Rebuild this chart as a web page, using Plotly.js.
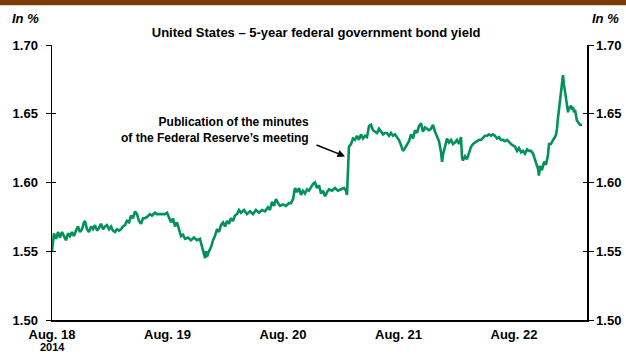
<!DOCTYPE html>
<html>
<head>
<meta charset="utf-8">
<script src="https://cdn.plot.ly/plotly-3.0.1.min.js"></script>
<style>
html,body{margin:0;padding:0;background:#fff;}
#chart{width:626px;height:354px;}
</style>
</head>
<body>
<div id="chart"></div>
<script>
// Trading time, in days since Aug. 18, 2014 00:00 (one segment per stretch of the curve)
const days1 = [0,0.009,0.017,0.035,0.052,0.069,0.087,0.104,0.121,0.139,0.156,0.173,0.190,0.208,0.225,0.242,0.260,0.277,0.286,0.303,0.320,0.338,0.355,0.372,0.390,0.407,0.424,0.442,0.459,0.476,0.494,0.511,0.528,0.545,0.563,0.580,0.597,0.615,0.632,0.649,0.667,0.684,0.701,0.719,0.736,0.753,0.771,0.788,0.805];
const yield1 = [1.550,1.555,1.563,1.559,1.564,1.560,1.564,1.561,1.558,1.563,1.561,1.564,1.561,1.565,1.568,1.564,1.566,1.571,1.572,1.566,1.564,1.568,1.566,1.569,1.565,1.567,1.570,1.566,1.568,1.569,1.566,1.568,1.565,1.564,1.566,1.565,1.566,1.568,1.569,1.572,1.571,1.576,1.574,1.579,1.577,1.572,1.570,1.574,1.574];

const days2 = [0.823,0.848,0.866,0.892,0.909,0.935,0.961,0.978,0.996,1.013,1.030,1.048,1.065,1.082,1.100,1.117,1.134,1.152,1.177,1.203,1.229,1.255,1.281,1.299,1.316,1.325,1.333,1.342,1.359,1.377,1.394,1.411,1.429,1.446,1.463,1.481,1.498,1.515,1.532,1.550,1.567,1.584,1.602,1.619];
const yield2 = [1.575,1.577,1.576,1.578,1.577,1.577,1.577,1.577,1.578,1.575,1.571,1.574,1.568,1.571,1.565,1.561,1.562,1.559,1.560,1.558,1.560,1.558,1.559,1.554,1.549,1.545,1.550,1.546,1.550,1.553,1.558,1.561,1.566,1.564,1.569,1.571,1.568,1.572,1.570,1.574,1.572,1.576,1.577,1.580];

const days3 = [1.636,1.662,1.688,1.714,1.740,1.766,1.792,1.818,1.844,1.870,1.887,1.905,1.922,1.939,1.957,1.974,2.000,2.026,2.052,2.069,2.087,2.104,2.121,2.139,2.156,2.173,2.190,2.208,2.225,2.242,2.260,2.277,2.294,2.312,2.329,2.346,2.364,2.381,2.398,2.424,2.450,2.476,2.502,2.528,2.545,2.554];
const yield3 = [1.578,1.580,1.577,1.579,1.577,1.580,1.578,1.580,1.579,1.582,1.580,1.586,1.583,1.588,1.585,1.583,1.584,1.583,1.585,1.585,1.588,1.596,1.593,1.596,1.591,1.594,1.592,1.595,1.594,1.596,1.599,1.600,1.596,1.598,1.592,1.594,1.590,1.593,1.595,1.594,1.596,1.594,1.595,1.596,1.594,1.591];

const days4 = [2.571,2.589,2.606,2.623,2.641,2.658,2.675,2.693,2.710,2.727,2.745,2.762,2.779,2.797,2.814,2.831,2.848,2.866,2.883,2.900,2.918,2.935,2.952,2.970,2.987,3.004,3.022,3.039,3.056,3.074,3.091,3.108,3.126,3.143,3.160,3.177,3.195,3.212,3.229,3.247,3.264];
const yield4 = [1.626,1.628,1.632,1.631,1.634,1.631,1.635,1.632,1.634,1.633,1.641,1.642,1.638,1.637,1.636,1.639,1.637,1.635,1.636,1.636,1.634,1.636,1.634,1.635,1.633,1.631,1.627,1.623,1.625,1.628,1.630,1.635,1.632,1.638,1.636,1.641,1.643,1.637,1.640,1.639,1.638];

const days5 = [3.281,3.299,3.316,3.333,3.351,3.368,3.377,3.385,3.403,3.420,3.437,3.455,3.472,3.489,3.506,3.524,3.541,3.550,3.558,3.576,3.593,3.610,3.628,3.645,3.662,3.680,3.697,3.714,3.732,3.749,3.766,3.784,3.801,3.818,3.835,3.853,3.870,3.887,3.905,3.922,3.939,3.957,3.974,3.991,4.009];
const yield5 = [1.639,1.642,1.637,1.633,1.630,1.622,1.615,1.620,1.627,1.632,1.629,1.631,1.628,1.629,1.631,1.628,1.633,1.618,1.616,1.619,1.617,1.622,1.626,1.628,1.629,1.630,1.631,1.631,1.633,1.634,1.634,1.635,1.634,1.635,1.634,1.632,1.633,1.631,1.631,1.630,1.631,1.629,1.628,1.627,1.626];

const days6 = [4.026,4.043,4.061,4.078,4.095,4.113,4.130,4.147,4.165,4.182,4.199,4.208,4.216,4.225,4.242,4.260,4.277,4.294,4.303,4.320,4.338,4.355,4.364,4.372,4.381,4.390,4.398,4.407,4.416,4.424,4.433,4.442,4.450,4.459,4.468,4.476,4.485,4.494,4.502,4.511,4.519,4.528,4.537,4.545,4.554,4.571,4.589];
const yield6 = [1.623,1.625,1.622,1.623,1.621,1.624,1.623,1.623,1.621,1.616,1.612,1.610,1.605,1.612,1.609,1.615,1.613,1.620,1.628,1.628,1.631,1.633,1.635,1.639,1.647,1.654,1.662,1.669,1.676,1.678,1.671,1.666,1.658,1.653,1.651,1.655,1.654,1.656,1.653,1.655,1.651,1.653,1.649,1.645,1.644,1.642,1.642];

const tickDays = [0,1,2,3,4];
const tickLabels = ["Aug. 18","Aug. 19","Aug. 20","Aug. 21","Aug. 22"];
const yearLabel = "2014";
const yTicks = [1.50,1.55,1.60,1.65,1.70];
const yTickLabels = ["1.50","1.55","1.60","1.65","1.70"];

const titleText = "United States \u2013 5-year federal government bond yield";
const unitText = "In %";
const noteText = "Publication of the minutes<br>of the Federal Reserve\u2019s meeting";
const noteDay = 2.242, noteYield = 1.638;
const arrowDay = 2.537, arrowYield = 1.619;

const pairs = [[days1,yield1],[days2,yield2],[days3,yield3],[days4,yield4],[days5,yield5],[days6,yield6]];
pairs.forEach((p,i)=>{ if(p[0].length!==p[1].length) throw new Error("length mismatch in segment "+(i+1)+": "+p[0].length+" vs "+p[1].length); });
const xs = [].concat(days1,days2,days3,days4,days5,days6);
const ys = [].concat(yield1,yield2,yield3,yield4,yield5,yield6);

const FONT = "Liberation Sans, Arial, Helvetica, sans-serif";
const boldFont = (s)=>({family:FONT,size:s,color:"#000",weight:700});

const mainTrace = {
  x: xs, y: ys, type: "scatter", mode: "lines", yaxis:"y",
  line: {color:"#00925a", width:2.6},
  hoverinfo: "skip", showlegend:false
};
// same series attached (invisibly) to the secondary axes so they are drawn
const ghost = (ax)=>({x: xs, y: ys, type:"scatter", mode:"lines", yaxis:ax,
  line:{color:"rgba(0,0,0,0)", width:0}, hoverinfo:"skip", showlegend:false});

const yCommon = {
  range:[1.50,1.70], tickvals:yTicks, ticktext:yTickLabels,
  showgrid:false, zeroline:false, fixedrange:true,
  tickwidth:1, tickcolor:"#000"
};

const layout = {
  width:626, height:354,
  margin:{l:52, r:39, t:45, b:34, pad:0},
  paper_bgcolor:"#fff", plot_bgcolor:"#fff",
  title:{text:titleText, font:boldFont(13), x:0.505, xanchor:"center", y:0.907, yanchor:"middle"},
  xaxis:{
    range:[0,4.632], tickvals:tickDays, ticktext:tickLabels,
    showgrid:false, zeroline:false, showline:true, linecolor:"#000", linewidth:1.5,
    ticks:"", tickfont:boldFont(13), ticklabelstandoff:2, fixedrange:true
  },
  yaxis: Object.assign({}, yCommon, {side:"left", showline:true, linecolor:"#000", linewidth:1.5,
    ticks:"outside", ticklen:5, tickfont:boldFont(13), ticklabelstandoff:5}),
  yaxis2: Object.assign({}, yCommon, {side:"right", overlaying:"y", anchor:"x", showline:true, linecolor:"#000", linewidth:1.5,
    ticks:"outside", ticklen:5, tickfont:boldFont(13), ticklabelstandoff:0}),
  yaxis3: Object.assign({}, yCommon, {side:"left", overlaying:"y", anchor:"x", showline:false,
    ticks:"inside", ticklen:4, showticklabels:false}),
  yaxis4: Object.assign({}, yCommon, {side:"right", overlaying:"y", anchor:"x", showline:false,
    ticks:"inside", ticklen:4, showticklabels:false}),
  showlegend:false,
  shapes:[
    {type:"rect", xref:"paper", yref:"paper", x0:-0.1, x1:1.1, y0:1.145, y1:1.17, fillcolor:"#7b3a08", line:{width:0}}
  ],
  annotations:[
    {xref:"paper", yref:"paper", x:-0.0486, y:1.098, text:"<i>"+unitText+"</i>", showarrow:false, font:boldFont(13), xanchor:"center", yanchor:"middle"},
    {xref:"paper", yref:"paper", x:1.034, y:1.098, text:"<i>"+unitText+"</i>", showarrow:false, font:boldFont(13), xanchor:"center", yanchor:"middle"},
    {xref:"x", yref:"paper", x:0, y:-0.099, text:yearLabel, showarrow:false, font:boldFont(11), xanchor:"center", yanchor:"middle"},
    {xref:"x", yref:"y", x:noteDay, y:noteYield, text:noteText, showarrow:false, font:boldFont(12), xanchor:"right", yanchor:"middle", align:"right"},
    {xref:"x", yref:"y", x:arrowDay, y:arrowYield, text:"", showarrow:true, ax:-30, ay:-12, arrowhead:2, arrowsize:1, arrowwidth:1.5, arrowcolor:"#000"}
  ]
};

Plotly.newPlot("chart", [mainTrace, ghost("y2"), ghost("y3"), ghost("y4")], layout, {staticPlot:true, displayModeBar:false});
</script>
</body>
</html>
